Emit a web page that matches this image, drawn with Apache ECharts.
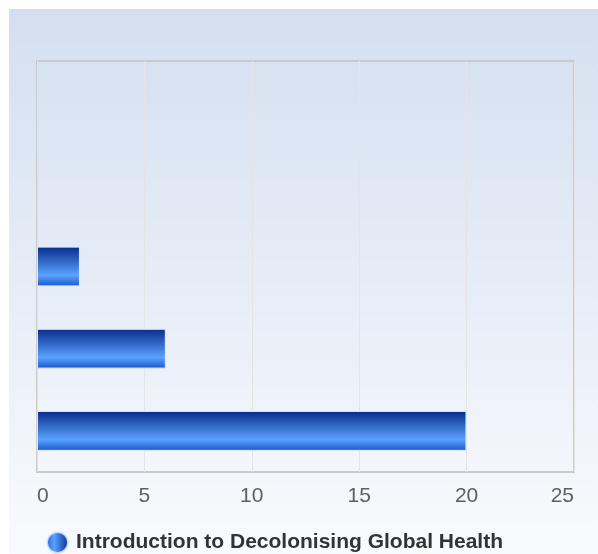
<!DOCTYPE html>
<html>
<head>
<meta charset="utf-8">
<script src="https://cdn.jsdelivr.net/npm/echarts@6/dist/echarts.min.js"></script>
<style>
  html, body { margin: 0; padding: 0; background: #fff; }
  #chart { width: 598px; height: 554px; }
</style>
</head>
<body>
<div id="chart"></div>
<script>
// data
var categories = ['1', '2', '3', '4', '5'];
var seriesName = 'Introduction to Decolonising Global Health';
var values = [null, null, 2, 6, 20];
var xTicks = { min: 0, max: 25, interval: 5 };

var myChart = echarts.init(document.getElementById('chart'));

var barColor = new echarts.graphic.LinearGradient(0, 0, 0, 1, [
    { offset: 0, color: '#062a8b' },
    { offset: 0.72, color: '#5aa2ff' },
    { offset: 1, color: '#1957c6' }
]);
var iconColor = new echarts.graphic.LinearGradient(0, 0, 1, 0, [
    { offset: 0, color: '#1d5fd0' },
    { offset: 0.35, color: '#5aa2ff' },
    { offset: 1, color: '#062a8b' }
]);

var option = {
    textStyle: { fontFamily: 'Liberation Sans, Arial, sans-serif' },
    graphic: [{
        type: 'rect',
        z: -10,
        silent: true,
        shape: { x: 9, y: 9, width: 589, height: 545 },
        style: {
            fill: new echarts.graphic.LinearGradient(0, 0, 0, 1, [
                { offset: 0, color: '#d3dff0' },
                { offset: 1, color: '#f9fafd' }
            ])
        }
    }],
    grid: {
        left: 37,
        right: 24,
        top: 61,
        bottom: 82,
        show: true,
        borderColor: '#c9c9c9',
        borderWidth: 2,
        containLabel: false
    },
    legend: {
        left: 41,
        top: 526,
        icon: 'circle',
        itemWidth: 21,
        itemHeight: 21,
        itemGap: 10,
        textStyle: { fontSize: 21, fontWeight: 'bold', color: '#333333', padding: [0, 0, 0, 3] },
        data: [{ name: seriesName, itemStyle: { color: iconColor } }]
    },
    xAxis: {
        type: 'value',
        min: xTicks.min,
        max: xTicks.max,
        interval: xTicks.interval,
        axisLine: { show: false },
        axisTick: { show: false },
        axisLabel: {
            fontSize: 21,
            color: '#606060',
            margin: 14,
            alignMinLabel: 'left',
            alignMaxLabel: 'right'
        },
        splitLine: { lineStyle: { color: '#e4e4e4', width: 1 } }
    },
    yAxis: {
        type: 'category',
        inverse: true,
        data: categories,
        axisLine: { show: false },
        axisTick: { show: false },
        axisLabel: { show: false },
        splitLine: { show: false }
    },
    series: [{
        name: seriesName,
        type: 'bar',
        barWidth: 40,
        itemStyle: {
            color: barColor,
            borderColor: 'rgba(220,235,255,0.8)',
            borderWidth: 1
        },
        data: values
    }]
};

myChart.setOption(option);
window.addEventListener('resize', myChart.resize);
</script>
</body>
</html>
